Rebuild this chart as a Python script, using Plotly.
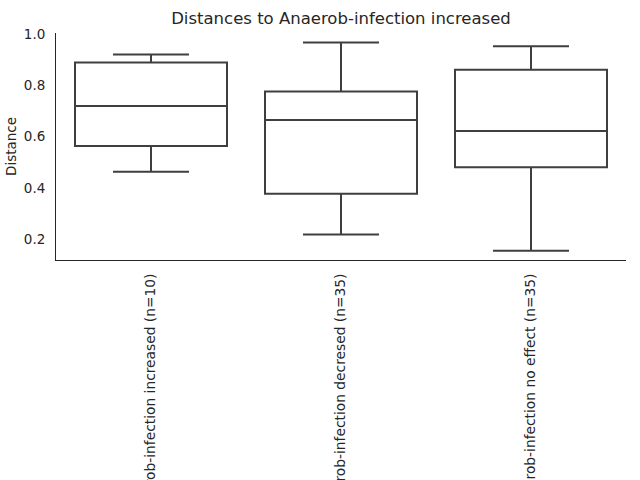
import plotly.graph_objects as go

categories = ["Anaerob-infection increased (n=10)",
              "Anaerob-infection decresed (n=35)",
              "Anaerob-infection no effect (n=35)"]
lower_whisker = [0.463, 0.218, 0.155]
q1_vals = [0.563, 0.377, 0.480]
median_vals = [0.719, 0.664, 0.621]
q3_vals = [0.888, 0.775, 0.860]
upper_whisker = [0.919, 0.966, 0.951]

LINE = "#3f3f3f"
TEXT = "#262626"
FONT = "DejaVu Sans"

fig = go.Figure()
fig.add_trace(go.Box(
    x=categories,
    q1=q1_vals, median=median_vals, q3=q3_vals,
    lowerfence=lower_whisker, upperfence=upper_whisker,
    fillcolor="white",
    line=dict(color=LINE, width=2),
    whiskerwidth=0.5,
    width=0.8,
    boxpoints=False,
    showlegend=False,
    hoverinfo="skip",
))

fig.update_layout(
    width=640, height=480,
    margin=dict(l=56, r=14, t=33, b=220, autoexpand=False),
    paper_bgcolor="white", plot_bgcolor="white",
    font=dict(family=FONT, size=13.5, color=TEXT),
    title=dict(text="Distances to Anaerob-infection increased",
               x=341 / 640, xanchor="center", y=1 - 18 / 480, yanchor="middle",
               font=dict(size=16.5, color=TEXT)),
    xaxis=dict(
        range=[-0.5, 2.5], showgrid=False, zeroline=False,
        showline=True, linecolor=TEXT, linewidth=1,
        ticks="", tickangle=-90, automargin=False,
        ticklabelstandoff=7,
        tickfont=dict(size=13.8, color=TEXT),
    ),
    yaxis=dict(
        range=[0.119, 1.003], showgrid=False, zeroline=False,
        showline=True, linecolor=TEXT, linewidth=1,
        ticks="", tickvals=[0.2, 0.4, 0.6, 0.8, 1.0],
        ticktext=["0.2", "0.4", "0.6", "0.8", "1.0"],
        automargin=False,
        ticklabelstandoff=7,
        tickfont=dict(size=13.5, color=TEXT),
        title=dict(text="Distance", font=dict(size=13.5, color=TEXT), standoff=4),
    ),
)

fig.write_html("out.html", config={"displayModeBar": False},
               post_script="document.body.style.margin='0';document.body.style.padding='0';")
